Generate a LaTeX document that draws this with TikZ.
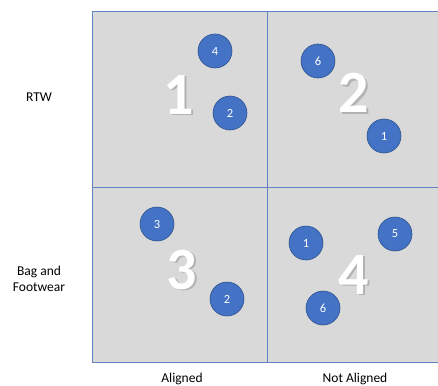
\documentclass[tikz,border=0pt]{standalone}
\usepackage{fontspec}
\setmainfont{Carlito}
\begin{document}
\begin{tikzpicture}[x=1pt,y=-1pt,
  dot/.style={circle,fill=dotblue,draw=dotedge,line width=0.6pt,minimum width=34pt,minimum height=32pt,inner sep=0pt,text=white,font=\fontsize{12.5}{14}\selectfont},
  big/.style={text=white,font=\fontsize{60}{64}\selectfont\bfseries,inner sep=0pt},
  lab/.style={font=\fontsize{13.5}{16.5}\selectfont,align=center,inner sep=0pt}]
\definecolor{dotblue}{HTML}{4472C4}
\definecolor{dotedge}{HTML}{2F528F}
\definecolor{gridline}{HTML}{6283C0}
\definecolor{cellgray}{HTML}{D9D9D9}
\useasboundingbox (0,0) rectangle (438,385);
\fill[cellgray] (92,11.5) rectangle (440,362);
\draw[gridline,line width=1pt] (92,11.5) -- (440,11.5);
\draw[gridline,line width=1pt] (92,362) -- (440,362);
\draw[gridline,line width=1pt] (92,11.5) -- (92,362);
\draw[gridline,line width=1pt] (267.5,11.5) -- (267.5,362);
\draw[gridline,line width=1pt] (92,187) -- (440,187);
% big numbers
\node[big,text=black!30] at (180.5,96.5) {1};
\node[big] (b1) at (179,95) {1};
\node[big,text=black!30] at (355.5,94.5) {2};
\node[big] (b2) at (354,93) {2};
\node[big,text=black!30] at (183.5,271.5) {3};
\node[big] (b3) at (182,270) {3};
\node[big,text=black!30] at (355.5,276.5) {4};
\node[big] (b4) at (354,275) {4};
% dots
\node[dot] (q1a) at (215,51) {4};
\node[dot] (q1b) at (230,113) {2};
\node[dot] (q2a) at (318,61) {6};
\node[dot] (q2b) at (384,136) {1};
\node[dot] (q3a) at (157,224) {3};
\node[dot] (q3b) at (227,299) {2};
\node[dot] (q4a) at (306,243) {1};
\node[dot] (q4b) at (395,234) {5};
\node[dot] (q4c) at (323,308) {6};
% labels
\node[lab] (rtw) at (39,97) {RTW};
\node[lab] (bag) at (39,279) {Bag and\\Footwear};
\node[lab] (al) at (182,379) {Aligned};
\node[lab] (nal) at (355,379) {Not Aligned};
\end{tikzpicture}
\end{document}
